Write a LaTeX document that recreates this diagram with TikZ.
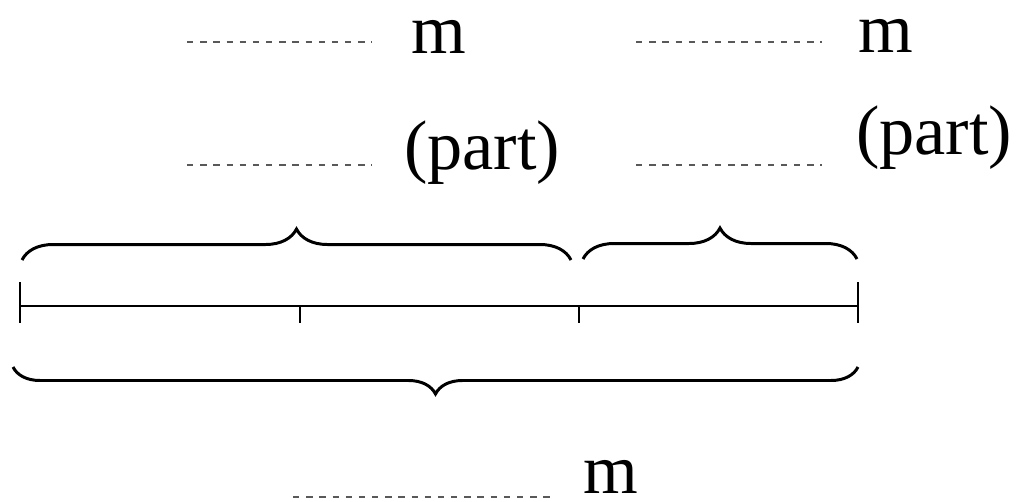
\documentclass[tikz,border=0pt]{standalone}
\usepackage{fontspec}
\setmainfont{Liberation Serif}
\usetikzlibrary{decorations.pathreplacing}

\begin{document}
\begin{tikzpicture}[x=0.02cm, y=-0.02cm, line width=1.2pt,
    lbl/.style={font=\fontsize{40}{48}\selectfont, anchor=base west, inner sep=0pt},
    unit/.style={lbl, text height=1ex, text depth=0pt},
    blank/.style={gray!70!black, line width=0.6pt, dash pattern=on 3.6pt off 3.9pt},
    brc/.style={decorate, decoration={brace, amplitude=#1}, line width=1.7pt}]

        % 그림 영역 (bounding box)
        \useasboundingbox (0,0) rectangle (1018,501);

        % 수직선 위의 눈금 (segment and ticks)
        \coordinate (a) at (20,306);
        \coordinate (b) at (300,306);
        \coordinate (c) at (579,306);
        \coordinate (d) at (858,306);
        \draw (a) -- (d);
        \draw ([yshift=0.48cm]a) -- ([yshift=-0.34cm]a);
        \draw ([yshift=0.48cm]d) -- ([yshift=-0.34cm]d);
        \draw (b) -- ([yshift=-0.34cm]b);
        \draw (c) -- ([yshift=-0.34cm]c);

        % 위쪽 괄호 두 개 (upper braces)
        \draw[brc=0.62cm] (22,260) -- (571,260);
        \draw[brc=0.62cm] (583,259) -- (857,259);

        % 아래쪽 전체 괄호 (lower brace)
        \draw[brc=0.54cm] (858,367) -- (13,367);

        % 빈칸과 단위 (blanks and labels)
        \draw[blank] (187,42) -- (372,42);
        \node[unit] (m1) at (410,53) {m};
        \draw[blank] (636,42) -- (822,42);
        \node[unit] (m2) at (857,52) {m};

        \draw[blank] (187,165) -- (372,165);
        \node[lbl] (p1) at (403,169) {(part)};
        \draw[blank] (636,165) -- (822,165);
        \node[lbl] (p2) at (855,154) {(part)};

        \draw[blank] (293,497) -- (553,497);
        \node[unit] (m3) at (582,493) {m};

    \end{tikzpicture}
\end{document}
